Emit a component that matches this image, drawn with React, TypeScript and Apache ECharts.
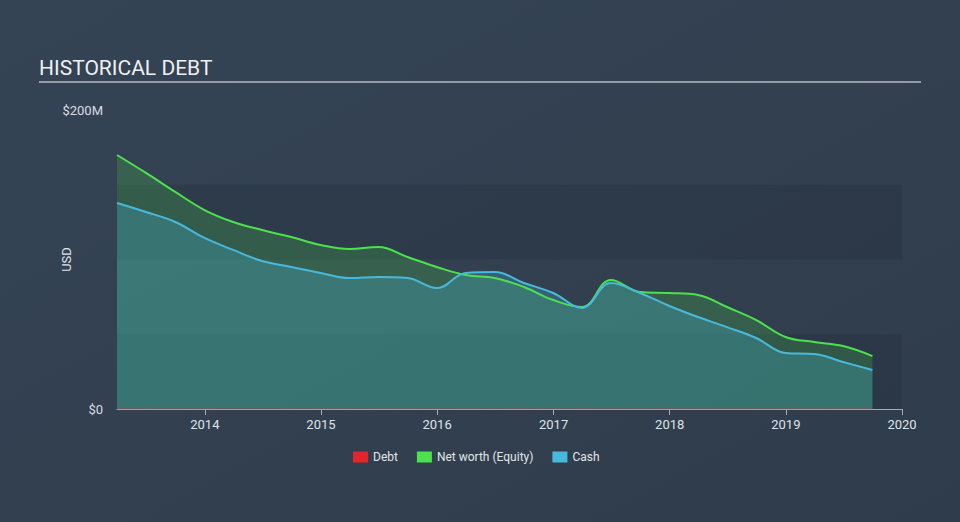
import React, { useEffect, useRef } from "react";
import * as echarts from "echarts";

const dates = [
  "2013-03-31", "2013-06-30", "2013-09-30", "2013-12-31",
  "2014-03-31", "2014-06-30", "2014-09-30", "2014-12-31",
  "2015-03-31", "2015-06-30", "2015-09-30", "2015-12-31",
  "2016-03-31", "2016-06-30", "2016-09-30", "2016-12-31",
  "2017-03-31", "2017-06-30", "2017-09-30", "2017-12-31",
  "2018-03-31", "2018-06-30", "2018-09-30", "2018-12-31",
  "2019-03-31", "2019-06-30", "2019-09-30",
];
const debt = [0, 0, 0, 0, 0, 0, 0, 0, 0, 0, 0, 0, 0, 0, 0, 0, 0, 0, 0, 0, 0, 0, 0, 0, 0, 0, 0];
const netWorth = [
  169.9, 157.9, 145.2, 133.1, 125.1, 119.7, 115.0, 109.7, 107.0, 108.4, 101.7, 95.0,
  89.6, 87.6, 81.6, 72.9, 68.2, 86.3, 78.3, 77.6, 76.3, 68.2, 59.5, 48.2, 44.8, 42.1, 35.4,
];
const cash = [
  137.8, 131.8, 125.1, 114.4, 106.4, 99.0, 95.0, 91.0, 87.6, 88.3, 87.6, 80.9,
  91.0, 91.6, 84.3, 77.6, 67.6, 84.3, 77.6, 68.9, 61.5, 54.8, 47.5, 37.5, 36.8, 31.4, 26.1,
];
const yTickLabels: Record<number, string> = { 0: "$0", 200: "$200M" };

const pair = (vals: number[]) => dates.map((d, i) => [d, vals[i]]);

export default function App() {
  const ref = useRef<HTMLDivElement>(null);
  useEffect(() => {
    if (!ref.current) return;
    const chart = echarts.init(ref.current, undefined, { renderer: "svg" });
    const font = "Roboto, 'Noto Sans', sans-serif";
    chart.setOption({
      animation: false,
      backgroundColor: {
        type: "linear", x: 0, y: 0, x2: 1, y2: 1,
        colorStops: [
          { offset: 0, color: "#354455" },
          { offset: 1, color: "#2f3c4b" },
        ],
      },
      textStyle: { fontFamily: font },
      graphic: [
        {
          type: "text", left: 39, top: 57,
          style: { text: "HISTORICAL DEBT", fill: "#eef0f3", fontSize: 21, fontFamily: font },
        },
        {
          type: "line", shape: { x1: 39, y1: 82, x2: 921, y2: 82 },
          style: { stroke: "#b4bac2", lineWidth: 1.5 },
        },
      ],
      legend: {
        bottom: 54, left: 348,
        itemWidth: 15, itemHeight: 11, itemGap: 19,
        icon: "rect",
        textStyle: { color: "#e2e5e8", fontSize: 12, fontFamily: font },
        data: ["Debt", "Net worth (Equity)", "Cash"],
      },
      grid: { left: 117, right: 58, top: 110, bottom: 113 },
      xAxis: {
        type: "time",
        min: new Date("2013-03-31").getTime(),
        max: new Date("2020-01-01").getTime(),
        minInterval: 365 * 24 * 3600 * 1000,
        maxInterval: 366 * 24 * 3600 * 1000,
        axisLine: { lineStyle: { color: "#a3abb4", width: 1 } },
        axisTick: { show: true, length: 6, lineStyle: { color: "#a3abb4" } },
        axisLabel: {
          color: "#dfe3e7", fontSize: 13, margin: 9, formatter: "{yyyy}",
          showMinLabel: false, showMaxLabel: true, hideOverlap: false,
        },
        splitLine: { show: false },
      },
      yAxis: {
        type: "value",
        min: 0, max: 200, interval: 50,
        name: "USD",
        nameLocation: "middle",
        nameRotate: 90,
        nameGap: 44,
        nameMoveOverlap: false,
        nameTextStyle: { color: "#dfe3e7", fontSize: 13 },
        axisLine: { show: false },
        axisTick: { show: false },
        splitLine: { show: false },
        splitArea: { show: true, areaStyle: { color: ["rgba(24,34,48,0.2)", "rgba(0,0,0,0)"] } },
        axisLabel: {
          color: "#d8dce0", fontSize: 13, margin: 14,
          formatter: (v: number) => yTickLabels[v] ?? "",
        },
      },
      series: [
        {
          name: "Debt", type: "line", data: pair(debt), smooth: true, symbol: "none",
          itemStyle: { color: "#e4262a" },
          lineStyle: { color: "#e4262a", width: 1, opacity: 0.5 },
        },
        {
          name: "Net worth (Equity)", type: "line", data: pair(netWorth), smooth: 0.4, symbol: "none",
          itemStyle: { color: "#4de24d" },
          lineStyle: { color: "#4de24d", width: 2 },
          areaStyle: { color: "#4de24d", opacity: 0.2 },
        },
        {
          name: "Cash", type: "line", data: pair(cash), smooth: 0.4, symbol: "none",
          itemStyle: { color: "#48b9dc" },
          lineStyle: { color: "#48b9dc", width: 2 },
          areaStyle: { color: "#48b9dc", opacity: 0.27 },
        },
      ],
    });
    return () => chart.dispose();
  }, []);
  return <div ref={ref} style={{ width: 960, height: 522, position: "fixed", left: 0, top: 0 }} />;
}
